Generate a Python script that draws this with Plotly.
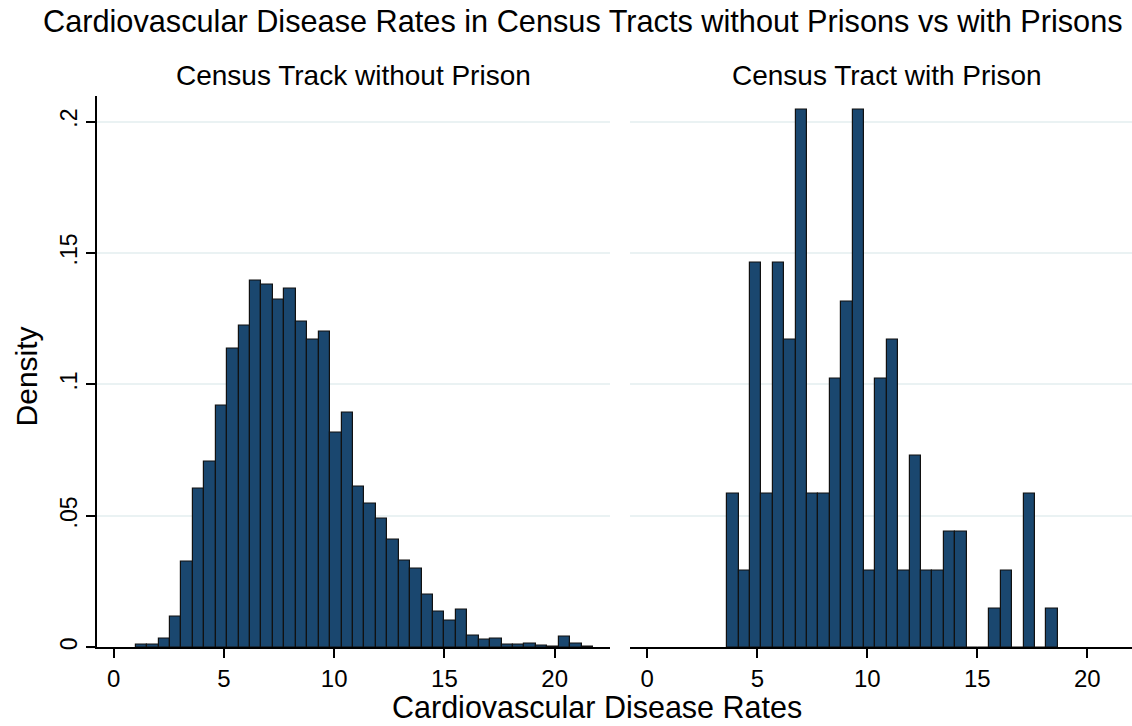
import plotly.graph_objects as go

# ---------------- data ----------------
# Left panel: census tracts without prison (40 bins)
left_bin_start = 1.0
left_bin_width = 0.5185
left_density = [
    0.0012, 0.0009, 0.0032, 0.0117, 0.0325, 0.0604, 0.0707, 0.0918, 0.1135, 0.1222,
    0.1396, 0.1380, 0.1322, 0.1366, 0.1240, 0.1169, 0.1202, 0.0815, 0.0891, 0.0612,
    0.0545, 0.0489, 0.0410, 0.0330, 0.0300, 0.0201, 0.0136, 0.0100, 0.0144, 0.0044,
    0.0029, 0.0034, 0.0010, 0.0010, 0.0015, 0.0005, 0.0004, 0.0040, 0.0013, 0.0004,
]

# Right panel: census tracts with prison (29 bins)
right_bin_start = 3.636
right_bin_width = 0.518
right_density = [
    0.0585, 0.0292, 0.1462, 0.0585, 0.1462, 0.1170, 0.2047, 0.0585, 0.0585, 0.1023,
    0.1316, 0.2047, 0.0292, 0.1023, 0.1170, 0.0292, 0.0731, 0.0292, 0.0292, 0.0439,
    0.0439, 0.0, 0.0, 0.0146, 0.0292, 0.0, 0.0585, 0.0, 0.0146,
]

x_tick_vals = [0, 5, 10, 15, 20]
x_tick_text = ["0", "5", "10", "15", "20"]
y_tick_vals = [0, 0.05, 0.1, 0.15, 0.2]
y_tick_text = ["0", ".05", ".1", ".15", ".2"]

title_text = "Cardiovascular Disease Rates in Census Tracts without Prisons vs with Prisons"
left_sub = "Census Track without Prison"
right_sub = "Census Tract with Prison"
x_title = "Cardiovascular Disease Rates"
y_title = "Density"

# ---------------- layout constants ----------------
W, H = 1132, 726
FONT = "Arial, Liberation Sans, sans-serif"
BAR_FILL = "#1a476f"
GRID = "#eaf2f3"


def px_x(p):
    return p / W


def px_y(p):
    return 1 - p / H


left_centers = [left_bin_start + (i + 0.5) * left_bin_width for i in range(len(left_density))]
right_centers = [right_bin_start + (i + 0.5) * right_bin_width for i in range(len(right_density))]

fig = go.Figure()
fig.add_trace(go.Bar(
    x=left_centers, y=left_density, width=left_bin_width,
    marker=dict(color=BAR_FILL, line=dict(color="#111111", width=1.2)),
    xaxis="x", yaxis="y", showlegend=False, hoverinfo="x+y",
))
fig.add_trace(go.Bar(
    x=right_centers, y=right_density, width=right_bin_width,
    marker=dict(color=BAR_FILL, line=dict(color="#111111", width=1.2)),
    xaxis="x2", yaxis="y2", showlegend=False, hoverinfo="x+y",
))

y_dom = [px_y(650), px_y(96)]
y_rng = [0, 0.20985]

common_x = dict(
    tickmode="array", tickvals=x_tick_vals, ticktext=x_tick_text,
    ticks="outside", ticklen=9, tickwidth=1.5, tickcolor="#000000",
    showline=True, linecolor="#000000", linewidth=1.5,
    showgrid=False, zeroline=False,
    tickfont=dict(family=FONT, size=24, color="#000000"),
)

fig.update_layout(
    width=W, height=H,
    margin=dict(l=0, r=0, t=0, b=0),
    paper_bgcolor="white", plot_bgcolor="white",
    bargap=0,
    xaxis=dict(domain=[px_x(97), px_x(610)], range=[-0.757, 22.51], anchor="y", **common_x),
    xaxis2=dict(domain=[px_x(630), 1.0], range=[-0.786, 22.03], anchor="y2", **common_x),
    yaxis=dict(
        domain=y_dom, range=y_rng, anchor="x",
        tickmode="array", tickvals=y_tick_vals, ticktext=y_tick_text,
        ticks="outside", ticklen=9, tickwidth=1.5, tickcolor="#000000",
        tickangle=-90,
        showline=True, linecolor="#000000", linewidth=1.5,
        showgrid=True, gridcolor=GRID, gridwidth=1.5, zeroline=False,
        tickfont=dict(family=FONT, size=23, color="#000000"),
    ),
    yaxis2=dict(
        domain=y_dom, range=y_rng, anchor="x2",
        tickmode="array", tickvals=y_tick_vals, showticklabels=False,
        ticks="", showline=False,
        showgrid=True, gridcolor=GRID, gridwidth=1.5, zeroline=False,
    ),
    shapes=[
        dict(type="line", xref="paper", yref="paper",
             x0=px_x(87), x1=px_x(97), y0=px_y(650), y1=px_y(650),
             line=dict(color="#000000", width=1.5)),
    ],
    annotations=[
        dict(text=title_text, x=px_x(583), y=px_y(22), xref="paper", yref="paper",
             xanchor="center", yanchor="middle", showarrow=False,
             font=dict(family=FONT, size=30.7, color="#000000")),
        dict(text=left_sub, x=px_x(353.5), y=px_y(76), xref="paper", yref="paper",
             xanchor="center", yanchor="middle", showarrow=False,
             font=dict(family=FONT, size=28, color="#000000")),
        dict(text=right_sub, x=px_x(887), y=px_y(76), xref="paper", yref="paper",
             xanchor="center", yanchor="middle", showarrow=False,
             font=dict(family=FONT, size=28, color="#000000")),
        dict(text=x_title, x=px_x(597), y=px_y(710), xref="paper", yref="paper",
             xanchor="center", yanchor="middle", showarrow=False,
             font=dict(family=FONT, size=30.5, color="#000000")),
        dict(text=y_title, x=px_x(26), y=px_y(378), xref="paper", yref="paper",
             xanchor="center", yanchor="middle", showarrow=False, textangle=-90,
             font=dict(family=FONT, size=30, color="#000000")),
    ],
)

# remove the default page margin so the figure sits at the window's top-left corner
fig.write_html(
    "out.html",
    config={"displayModeBar": False},
    post_script="document.body.style.margin='0';",
)
